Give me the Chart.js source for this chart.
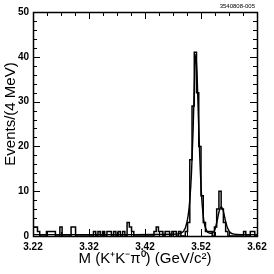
<!DOCTYPE html>
<html>
<head>
<meta charset="utf-8">
<script src="https://cdn.jsdelivr.net/npm/chart.js@4"></script>
<style>
    html, body { margin: 0; padding: 0; background: #fff; }
    #wrap { width: 274px; height: 274px; }
</style>
</head>
<body>
<div id="wrap"><canvas id="massChart" width="274" height="274"></canvas></div>
<script>
// histogram: 4 MeV bins from 3.22 to 3.62 GeV
const binStart = 3.22;
const binWidth = 0.004;
const counts = [
    2, 2, 1, 0, 0, 0, 1, 1, 1, 1,
    0, 0, 2, 0, 0, 0, 0, 2, 2, 0,
    0, 0, 0, 0, 0, 0, 0, 1, 0, 1,
    0, 1, 0, 1, 1, 0, 1, 0, 1, 0,
    1, 0, 3, 2, 1, 0, 0, 0, 0, 0,
    0, 0, 0, 0, 1, 2, 1, 1, 0, 1,
    1, 0, 1, 1, 0, 1, 0, 0, 1, 3,
    17, 29, 41, 32, 20, 9, 3, 1, 1, 1,
    0, 2, 6, 10, 6, 3, 1, 0, 0, 0,
    0, 0, 0, 0, 1, 0, 0, 1, 1, 0
];

// fit curve
const fitMass = [3.22, 3.30, 3.40, 3.47, 3.485, 3.492, 3.497, 3.500, 3.503, 3.506, 3.508,
    3.5105, 3.513, 3.515, 3.518, 3.521, 3.525, 3.530, 3.536, 3.541, 3.545, 3.549,
    3.553, 3.5565, 3.560, 3.564, 3.568, 3.573, 3.58, 3.60, 3.62];
const fitValue = [0.3, 0.3, 0.3, 0.4, 0.7, 1.8, 4.5, 8, 14, 24, 33,
    40.5, 36, 28, 17, 9, 3.5, 1.2, 0.6, 0.7, 1.5, 3.5,
    5.8, 6.5, 5.5, 3.2, 1.6, 0.7, 0.4, 0.3, 0.3];

const xTickLabels = [3.22, 3.32, 3.42, 3.52, 3.62];
const yTickLabels = [0, 10, 20, 30, 40, 50];

const xTitle = 'M (K\u207AK\u207B\u03C0\u2070) (GeV/c\u00B2)';
const yTitle = 'Events/(4 MeV)';
const plotId = '3540808-005';

const histPoints = counts.map((c, i) => ({ x: binStart + binWidth * i, y: c }));
histPoints.push({ x: binStart + binWidth * counts.length, y: counts[counts.length - 1] });
const fitPoints = fitMass.map((m, i) => ({ x: m, y: fitValue[i] }));

const tickFont = { family: '"Liberation Sans", Arial, sans-serif', size: 10, weight: 'bold' };

// inner ticks, frame and titles
const framePlugin = {
    id: 'frame',
    afterDraw(chart) {
        const ctx = chart.ctx;
        const a = chart.chartArea;
        const xs = chart.scales.x;
        const ys = chart.scales.y;
        ctx.save();
        ctx.strokeStyle = '#000';
        ctx.lineWidth = 1;
        ctx.beginPath();
        for (let v = 3.22; v <= 3.6201; v += 0.025) {
            const px = Math.round(xs.getPixelForValue(v)) + 0.5;
            const major = xTickLabels.some(t => Math.abs(t - v) < 1e-6);
            const len = major ? 7 : 4;
            ctx.moveTo(px, a.bottom); ctx.lineTo(px, a.bottom - len);
            ctx.moveTo(px, a.top); ctx.lineTo(px, a.top + len);
        }
        for (let v = 0; v <= 50; v += 2) {
            const py = Math.round(ys.getPixelForValue(v)) + 0.5;
            const len = v % 10 === 0 ? 7 : 4;
            ctx.moveTo(a.left, py); ctx.lineTo(a.left + len, py);
            ctx.moveTo(a.right, py); ctx.lineTo(a.right - len, py);
        }
        ctx.stroke();
        ctx.lineWidth = 1.5;
        ctx.strokeRect(Math.round(a.left) + 0.5, Math.round(a.top) + 0.5,
            Math.round(a.right - a.left), Math.round(a.bottom - a.top));

        ctx.fillStyle = '#000';
        ctx.font = '15px "Liberation Sans", Arial, sans-serif';
        ctx.textAlign = 'center';
        ctx.textBaseline = 'middle';
        ctx.fillText(xTitle, (a.left + a.right) / 2, 259);
        ctx.translate(11, 114);
        ctx.rotate(-Math.PI / 2);
        ctx.fillText(yTitle, 0, 0);
        ctx.restore();

        ctx.save();
        ctx.fillStyle = '#000';
        ctx.font = '6px "Liberation Sans", Arial, sans-serif';
        ctx.textAlign = 'right';
        ctx.textBaseline = 'middle';
        ctx.fillText(plotId, 255, 6);
        ctx.restore();
    }
};

new Chart(document.getElementById('massChart'), {
    type: 'line',
    data: {
        datasets: [{
            label: 'Data',
            data: histPoints,
            stepped: 'before',
            borderColor: '#000',
            borderWidth: 1.5,
            pointRadius: 0,
            fill: false
        }, {
            label: 'Fit',
            data: fitPoints,
            cubicInterpolationMode: 'monotone',
            borderColor: '#000',
            borderWidth: 1.4,
            pointRadius: 0,
            fill: false
        }]
    },
    plugins: [framePlugin],
    options: {
        responsive: false,
        animation: false,
        events: [],
        layout: { padding: { top: 12, right: 17, left: 0, bottom: 0 } },
        plugins: { legend: { display: false }, tooltip: { enabled: false } },
        scales: {
            x: {
                type: 'linear',
                min: 3.22,
                max: 3.62,
                afterBuildTicks: scale => { scale.ticks = xTickLabels.map(v => ({ value: v })); },
                afterFit: scale => { scale.height = 38; },
                grid: { display: false, drawTicks: false, tickLength: 0 },
                border: { display: false },
                ticks: {
                    color: '#000',
                    padding: 5,
                    maxRotation: 0,
                    font: tickFont,
                    callback: v => v.toFixed(2)
                }
            },
            y: {
                min: 0,
                max: 50,
                afterBuildTicks: scale => { scale.ticks = yTickLabels.map(v => ({ value: v })); },
                afterFit: scale => { scale.width = 33; },
                grid: { display: false, drawTicks: false, tickLength: 0 },
                border: { display: false },
                ticks: {
                    color: '#000',
                    padding: 4,
                    font: tickFont
                }
            }
        }
    }
});
</script>
</body>
</html>
